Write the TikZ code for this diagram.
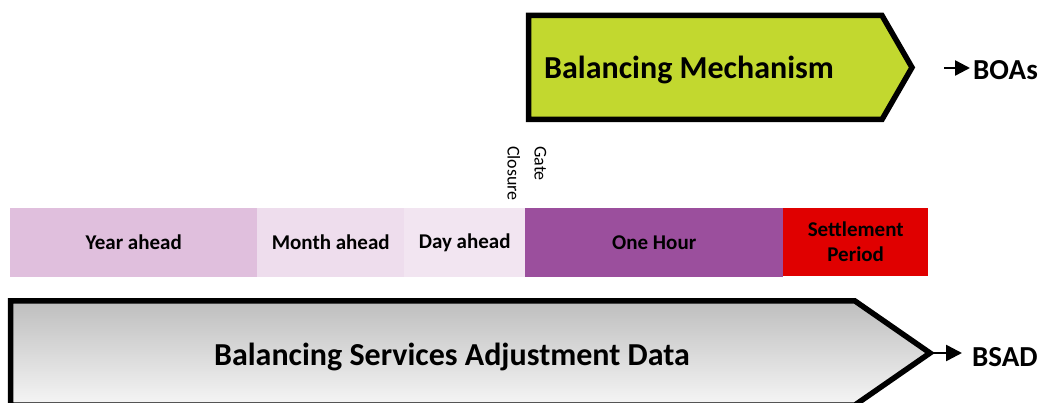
\documentclass[tikz,border=0pt]{standalone}
\usepackage{fontspec}
\setmainfont{Carlito}
\usetikzlibrary{arrows.meta}
\definecolor{lime}{HTML}{C2D82F}
\definecolor{yearc}{HTML}{E0BFDD}
\definecolor{monthc}{HTML}{EEDDED}
\definecolor{dayc}{HTML}{F2E5F1}
\definecolor{hourc}{HTML}{9B4F9D}
\definecolor{settc}{HTML}{E00000}
\definecolor{gtop}{HTML}{BEBEBE}
\definecolor{gbot}{HTML}{F5F5F5}
\tikzset{
  seg/.style={inner sep=0pt, anchor=north west, minimum height=69pt, font=\bfseries\fontsize{21}{25}\selectfont, align=center},
  bigarrow/.style={draw=black, line width=5.5pt, miter limit=10},
  outlbl/.style={font=\bfseries\fontsize{29}{34}\selectfont, inner sep=0pt, anchor=west},
  outarrow/.style={line width=2.5pt, -{Triangle[length=15pt,width=15pt]}}
}
\begin{document}
\begin{tikzpicture}[x=1pt,y=-1pt]
\useasboundingbox (0,0) rectangle (1042,403);
% Balancing Mechanism
\coordinate (bmtip) at (912,67.5);
\draw[bigarrow, fill=lime] (528.5,15.5) -- (882,15.5) -- (bmtip) -- (882,119.5) -- (528.5,119.5) -- cycle;
\node[font=\bfseries\fontsize{32}{38}\selectfont, anchor=west, inner sep=0pt] (bm) at (544,70) {Balancing Mechanism};
\coordinate (boastart) at (944,68);
\node[outlbl] (boas) at (973,70) {BOAs};
\draw[outarrow] (boastart) -- ([xshift=-3pt]boas.west |- boastart);
% Gate closure
\node[rotate=-90, anchor=west, align=left, inner sep=0pt, font=\fontsize{18}{27}\selectfont] (gate) at (527,146) {Gate\\Closure};
% Timeline bar
\node[seg, fill=yearc, minimum width=247pt] (year) at (10,208) {Year ahead};
\node[seg, fill=monthc, minimum width=147pt] (month) at (257,208) {Month ahead};
\node[seg, fill=dayc, minimum width=121pt] (day) at (404,208) {Day ahead};
\node[seg, fill=hourc, minimum width=258pt] (hour) at (525,208) {One Hour};
\node[seg, fill=settc, minimum width=145pt, minimum height=68pt] (sett) at (783,208) {Settlement\\Period};
% BSAD
\coordinate (bsadtip) at (930,353);
\draw[bigarrow, top color=gtop, bottom color=gbot] (10.5,301) -- (855,301) -- (bsadtip) -- (855,405) -- (10.5,405) -- cycle;
\node[font=\bfseries\fontsize{32}{38}\selectfont, inner sep=0pt] (bsadtext) at (452,357) {Balancing Services Adjustment Data};
\node[outlbl] (bsad) at (972,357) {BSAD};
\draw[outarrow, -{Triangle[length=16pt,width=16pt]}] (bsadtip) -- ([xshift=-10pt]bsad.west |- bsadtip);
\end{tikzpicture}
\end{document}
